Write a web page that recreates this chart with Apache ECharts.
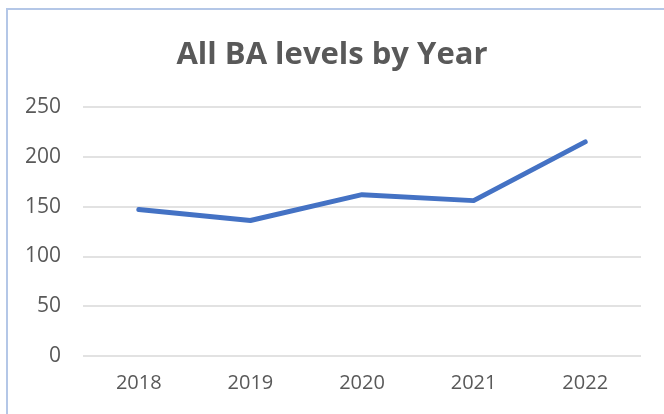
<!DOCTYPE html>
<html>
<head>
<meta charset="utf-8">
<script src="https://cdn.jsdelivr.net/npm/echarts@6/dist/echarts.min.js"></script>
<style>
  html, body { margin: 0; padding: 0; background: #fff; overflow: hidden; }
  .frame { position: absolute; left: 6px; top: 8px; width: 700px; height: 500px; border: 2px solid #b4c7e7; box-sizing: border-box; }
  #main { position: absolute; left: 0; top: 0; width: 664px; height: 414px; }
</style>
</head>
<body>
<div class="frame"></div>
<div id="main"></div>
<script>
// data
var years = ['2018', '2019', '2020', '2021', '2022'];
var baLevels = [147, 136, 162, 156, 215];

var myChart = echarts.init(document.getElementById('main'));
var option = {
  animation: false,
  title: {
    text: 'All BA levels by Year',
    left: 'center',
    top: 35,
    textStyle: {
      fontFamily: 'Open Sans',
      fontSize: 31,
      fontWeight: 'bold',
      color: '#595959'
    }
  },
  grid: {
    left: 83,
    right: 23,
    top: 107,
    bottom: 58
  },
  xAxis: {
    type: 'category',
    data: years,
    boundaryGap: true,
    axisLine: { show: false },
    axisTick: { show: false },
    axisLabel: {
      margin: 17,
      fontFamily: 'Open Sans',
      fontSize: 20,
      color: '#595959'
    }
  },
  yAxis: {
    type: 'value',
    min: 0,
    max: 250,
    interval: 50,
    axisLine: { show: false },
    axisTick: { show: false },
    axisLabel: {
      margin: 22,
      fontFamily: 'Open Sans',
      fontSize: 21,
      color: '#595959'
    },
    splitLine: { lineStyle: { color: '#d9d9d9', width: 1.5 } }
  },
  series: [
    {
      name: 'All BA levels',
      type: 'line',
      data: baLevels,
      showSymbol: false,
      lineStyle: { color: '#4472c4', width: 5, cap: 'round', join: 'round' },
      itemStyle: { color: '#4472c4' }
    }
  ]
};
myChart.setOption(option);
</script>
</body>
</html>
